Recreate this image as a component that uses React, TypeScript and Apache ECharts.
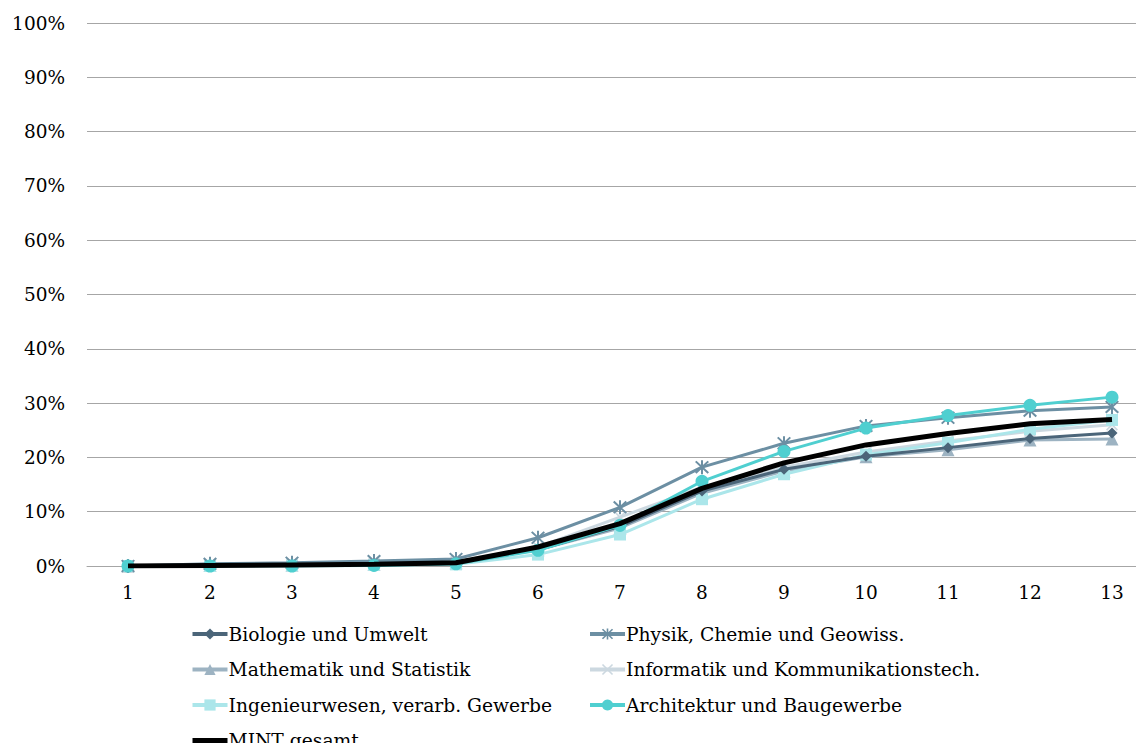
import React, { useEffect, useRef } from "react";
import * as echarts from "echarts";

const categories = ["1", "2", "3", "4", "5", "6", "7", "8", "9", "10", "11", "12", "13"];
const yTicks = [0, 10, 20, 30, 40, 50, 60, 70, 80, 90, 100];

const biologie = [0, 0.2, 0.3, 0.5, 0.8, 3.0, 7.3, 13.8, 17.8, 20.2, 21.8, 23.5, 24.5];
const physik = [0, 0.4, 0.6, 0.9, 1.3, 5.2, 10.8, 18.2, 22.6, 25.8, 27.3, 28.6, 29.3];
const mathematik = [0, 0.1, 0.2, 0.3, 0.6, 3.0, 7.0, 13.4, 17.5, 20.1, 21.4, 23.2, 23.4];
const informatik = [0, 0.2, 0.3, 0.4, 0.8, 3.5, 9.0, 14.5, 18.2, 21.0, 23.0, 24.8, 26.0];
const ingenieur = [0, 0, 0.1, 0.2, 0.3, 2.1, 5.8, 12.3, 16.9, 20.5, 22.7, 25.2, 26.9];
const architektur = [0, 0, 0, 0.1, 0.4, 2.9, 7.5, 15.6, 21.1, 25.4, 27.7, 29.6, 31.1];
const mintGesamt = [0, 0.1, 0.2, 0.3, 0.6, 3.5, 7.8, 14.3, 19.0, 22.3, 24.4, 26.2, 27.0];

const names = [
  "Biologie und Umwelt",
  "Physik, Chemie und Geowiss.",
  "Mathematik und Statistik",
  "Informatik und Kommunikationstech.",
  "Ingenieurwesen, verarb. Gewerbe",
  "Architektur und Baugewerbe",
  "MINT gesamt",
];

const STAR =
  "path://M-0.8,-6 L0.8,-6 L0.8,6 L-0.8,6 Z M-4.43,-5.57 L5.57,4.43 L4.43,5.57 L-5.57,-4.43 Z M5.57,-4.43 L-4.43,5.57 L-5.57,4.43 L4.43,-5.57 Z";
const XMARK =
  "path://M-4.43,-5.57 L5.57,4.43 L4.43,5.57 L-5.57,-4.43 Z M5.57,-4.43 L-4.43,5.57 L-5.57,4.43 L4.43,-5.57 Z";

const FONT = "DejaVu Serif";

export default function App() {
  const ref = useRef<HTMLDivElement>(null);
  useEffect(() => {
    if (!ref.current) return;
    const chart = echarts.init(ref.current, null, { renderer: "svg" });
    const mk = (
      name: string,
      data: number[],
      color: string,
      symbol: string,
      symbolSize: number,
      width: number,
      z: number
    ) => ({
      name,
      type: "line",
      data,
      symbol,
      symbolSize,
      showSymbol: symbol !== "none",
      z,
      lineStyle: { color, width },
      itemStyle: { color: symbol === "none" ? "rgba(0,0,0,0)" : color },
    });
    const legendText = {
      fontFamily: FONT,
      fontSize: 18.7,
      lineHeight: 20,
      color: "#000",
      padding: [0, 0, 0, -4],
    };
    const item = (n: string) =>
      n === "MINT gesamt"
        ? { name: n, lineStyle: { width: 5, color: "#000" } }
        : { name: n, lineStyle: { width: 4 } };
    chart.setOption({
      animation: false,
      grid: { left: 87, right: 7, top: 23, bottom: 214, containLabel: false },
      xAxis: {
        type: "category",
        data: categories,
        boundaryGap: true,
        axisLine: { show: true, lineStyle: { color: "#A6A6A6", width: 1 } },
        axisTick: { show: false },
        axisLabel: { fontFamily: FONT, fontSize: 18.5, color: "#000", margin: 17 },
      },
      yAxis: {
        type: "value",
        min: 0,
        max: 100,
        interval: 10,
        axisLine: { show: false },
        axisTick: { show: false },
        splitLine: { lineStyle: { color: "#A6A6A6", width: 1 } },
        axisLabel: {
          fontFamily: FONT,
          fontSize: 18.5,
          color: "#000",
          margin: 22,
          formatter: (v: number) => (yTicks.includes(v) ? v + "%" : ""),
        },
      },
      legend: [
        {
          orient: "vertical",
          left: 185,
          top: 619,
          itemWidth: 35,
          itemHeight: 14,
          itemGap: 15.5,
          textStyle: legendText,
          data: [names[0], names[2], names[4], names[6]].map(item),
        },
        {
          orient: "vertical",
          left: 583,
          top: 619,
          itemWidth: 35,
          itemHeight: 14,
          itemGap: 15.5,
          textStyle: legendText,
          data: [names[1], names[3], names[5]].map(item),
        },
      ],
      series: [
        mk(names[0], biologie, "#4B6579", "diamond", 11, 3, 3),
        mk(names[1], physik, "#6C8FA3", STAR, 14, 3, 4),
        mk(names[2], mathematik, "#9DB3C2", "triangle", 13, 3, 2),
        mk(names[3], informatik, "#CCD8E0", XMARK, 12, 3, 1),
        mk(names[4], ingenieur, "#ABE6EA", "rect", 12, 3, 2),
        mk(names[5], architektur, "#4FCFD0", "circle", 13, 3, 5),
        mk(names[6], mintGesamt, "#000000", "none", 0, 5, 6),
      ],
    });
    return () => chart.dispose();
  }, []);
  return (
    <div style={{ width: 1144, height: 751, margin: -8, overflow: "hidden" }}>
      <div ref={ref} style={{ width: 1160, height: 780 }} />
    </div>
  );
}
